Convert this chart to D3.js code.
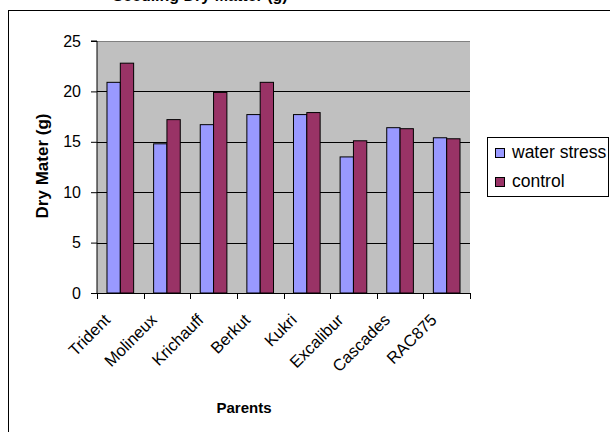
<!DOCTYPE html>
<html>
<head>
<meta charset="utf-8">
<script src="https://cdn.jsdelivr.net/npm/d3@7"></script>
<style>
  body { margin: 0; background: #fff; }
  text { font-family: "Liberation Sans", Arial, sans-serif; }
</style>
</head>
<body>
<div id="chart"></div>
<script>
// data
var parents = ["Trident", "Molineux", "Krichauff", "Berkut", "Kukri", "Excalibur", "Cascades", "RAC875"];
var waterStress = [20.9, 14.8, 16.7, 17.7, 17.7, 13.5, 16.4, 15.4];
var control = [22.8, 17.2, 19.9, 20.9, 17.9, 15.1, 16.3, 15.3];
var seriesNames = ["water stress", "control"];
var yTicks = [0, 5, 10, 15, 20, 25];

var colors = ["#9999FF", "#993366"];

var svgWidth = 610;
var svgHeight = 432;

// plot area
var plot = { left: 97, top: 41, right: 470, bottom: 293 };

var svg = d3.select("#chart")
  .append("svg")
  .attr("width", svgWidth)
  .attr("height", svgHeight);

// outer chart border (runs off the right and bottom)
svg.append("rect")
  .attr("x", 8.5)
  .attr("y", 10.5)
  .attr("width", 640)
  .attr("height", 460)
  .attr("fill", "#fff")
  .attr("stroke", "#000")
  .attr("stroke-width", 1);

// title, mostly above the visible area
svg.append("text")
  .attr("x", 200)
  .attr("y", 1)
  .attr("text-anchor", "middle")
  .attr("font-size", "16px")
  .attr("font-weight", "bold")
  .text("Seedling Dry Matter (g)");

var x0 = d3.scaleBand()
  .domain(parents)
  .range([plot.left, plot.right]);

var x1 = d3.scaleBand()
  .domain(seriesNames)
  .range([0, x0.bandwidth()])
  .paddingInner(0)
  .paddingOuter(0.75);

var y = d3.scaleLinear()
  .domain([0, 25])
  .range([plot.bottom, plot.top]);

// gray plot background
svg.append("rect")
  .attr("x", plot.left)
  .attr("y", plot.top)
  .attr("width", plot.right - plot.left)
  .attr("height", plot.bottom - plot.top)
  .attr("fill", "#C0C0C0");

// gridlines
svg.append("g")
  .selectAll("line")
  .data(yTicks.filter(d => d > 0))
  .join("line")
  .attr("x1", plot.left)
  .attr("x2", plot.right)
  .attr("y1", d => Math.round(y(d)) + 0.5)
  .attr("y2", d => Math.round(y(d)) + 0.5)
  .attr("stroke", d => d === 25 ? "#808080" : "#000")
  .attr("stroke-width", 1);

// bars
var rows = parents.map((p, i) => ({ parent: p, values: [waterStress[i], control[i]] }));

svg.append("g")
  .selectAll("g")
  .data(rows)
  .join("g")
  .attr("transform", d => `translate(${x0(d.parent)},0)`)
  .selectAll("rect")
  .data(d => d.values.map((v, k) => ({ key: seriesNames[k], value: v, k: k })))
  .join("rect")
  .attr("x", d => x1(d.key))
  .attr("y", d => y(d.value))
  .attr("width", x1.bandwidth())
  .attr("height", d => y(0) - y(d.value))
  .attr("fill", d => colors[d.k])
  .attr("stroke", "#000")
  .attr("stroke-width", 1);

// y axis
var leftAxis = d3.axisLeft(y)
  .tickValues(yTicks)
  .tickSize(6)
  .tickPadding(10);

var yAxis = svg.append("g")
  .attr("transform", `translate(${plot.left},0)`)
  .call(leftAxis);
yAxis.select(".domain").attr("d", `M-6,${plot.top}H0V${plot.bottom}`);
yAxis.selectAll("text")
  .attr("font-size", "16px")
  .attr("font-family", "Liberation Sans, Arial, sans-serif")
  .attr("fill", "#000");

// x axis, ticks at band edges
var xAxis = svg.append("g");
xAxis.append("line")
  .attr("x1", plot.left)
  .attr("x2", plot.right)
  .attr("y1", plot.bottom + 0.5)
  .attr("y2", plot.bottom + 0.5)
  .attr("stroke", "#000");

xAxis.selectAll("line.tick")
  .data(parents.concat(["end"]))
  .join("line")
  .attr("class", "tick")
  .attr("x1", (d, i) => Math.round(plot.left + i * x0.bandwidth()) + 0.5)
  .attr("x2", (d, i) => Math.round(plot.left + i * x0.bandwidth()) + 0.5)
  .attr("y1", plot.bottom)
  .attr("y2", plot.bottom + 6)
  .attr("stroke", "#000");

xAxis.selectAll("text")
  .data(parents)
  .join("text")
  .attr("transform", d => `translate(${x0(d) + x0.bandwidth() / 2 - 9},${plot.bottom + 28}) rotate(-45)`)
  .attr("text-anchor", "end")
  .attr("font-size", "16.5px")
  .text(d => d);

// axis titles
svg.append("text")
  .attr("transform", `translate(48,166) rotate(-90)`)
  .attr("text-anchor", "middle")
  .attr("font-size", "17px")
  .attr("font-weight", "bold")
  .text("Dry Mater (g)");

svg.append("text")
  .attr("x", 244)
  .attr("y", 413)
  .attr("text-anchor", "middle")
  .attr("font-size", "15px")
  .attr("font-weight", "bold")
  .text("Parents");

// legend
var legend = svg.append("g");
legend.append("rect")
  .attr("x", 487.5)
  .attr("y", 137.5)
  .attr("width", 121)
  .attr("height", 59)
  .attr("fill", "#fff")
  .attr("stroke", "#000");

var items = legend.selectAll("g")
  .data(seriesNames)
  .join("g")
  .attr("transform", (d, i) => `translate(495,${148 + i * 29})`);

items.append("rect")
  .attr("x", 0.5)
  .attr("y", 0.5)
  .attr("width", 9)
  .attr("height", 9)
  .attr("fill", (d, i) => colors[i])
  .attr("stroke", "#000");

items.append("text")
  .attr("x", 17)
  .attr("y", 10)
  .attr("font-size", "17.5px")
  .text(d => d);
</script>
</body>
</html>
